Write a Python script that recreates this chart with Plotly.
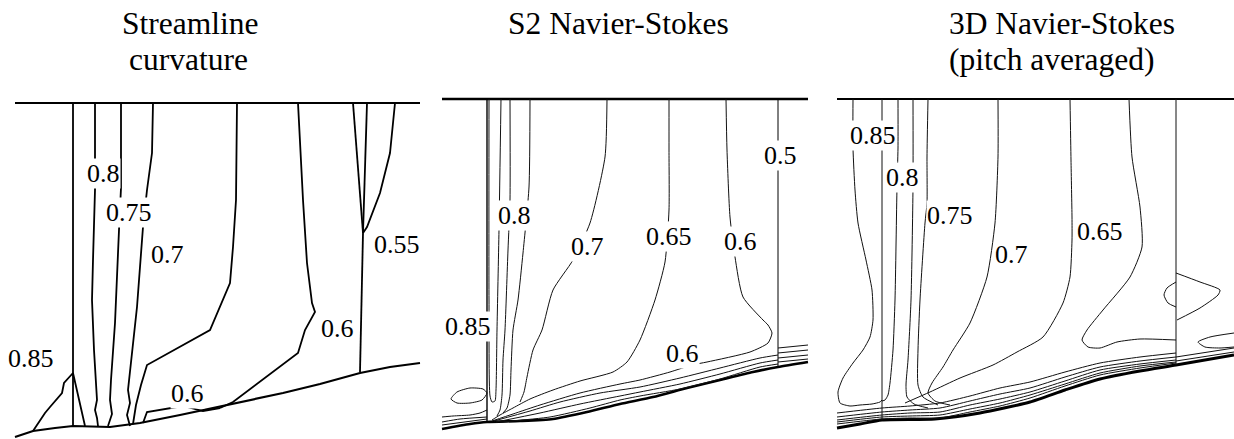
import plotly.graph_objects as go

FONT = "Liberation Serif"

# ---------------- Panel 1 : Streamline curvature ----------------
P1_TOP = ([15, 420], [103, 103])
P1_HUB = ([15, 33, 55, 73, 110, 140, 180, 217, 250, 283, 320, 360, 390, 420],
          [437, 431, 428, 426, 427, 423, 415, 407, 400, 393, 384, 373, 367, 363])
P1_A = ([73, 73], [103, 426])
P1_085 = ([33, 45, 50, 62, 64, 73, 85], [431, 413, 407, 393, 383, 373, 426])
P1_B = ([95, 95, 93, 92, 94, 97, 95, 97, 98], [103, 190, 260, 300, 350, 400, 410, 418, 426])
P1_C = ([121, 121, 119, 115, 111, 110, 112, 108], [103, 188, 230, 323, 380, 400, 414, 426])
P1_D = ([153, 152, 147, 143, 137, 131, 128, 130, 127, 130], [103, 153, 190, 227, 307, 360, 390, 403, 415, 426])
P1_070 = ([237, 236, 233, 230, 210, 147, 141, 136, 133], [103, 200, 247, 283, 330, 365, 385, 405, 424])
P1_060_LOW = ([143, 147, 183, 203, 220], [423, 412, 406, 411, 408])
P1_060 = ([298, 303, 307, 312, 315, 305, 298, 233, 220], [103, 200, 263, 303, 312, 330, 353, 402, 408])
P1_H1 = ([353, 363], [103, 233])
P1_H2 = ([367, 363], [103, 233])
P1_H3 = ([395, 390, 380, 367, 363], [103, 153, 193, 227, 233])
P1_H4 = ([363, 360], [233, 372])
P1_LABELS = [("0.85", 31, 358), ("0.8", 103, 173), ("0.75", 129, 212), ("0.7", 167, 254),
             ("0.6", 187, 393), ("0.6", 337, 328), ("0.55", 397, 244)]

# ---------------- Panel 2 : S2 Navier-Stokes ----------------
P2_TOP = ([442, 808], [99, 99])
P2_HUB = ([442, 470, 487, 520, 553, 587, 620, 653, 687, 720, 753, 778, 808],
          [429, 424, 422, 421, 419, 412, 404, 397, 388, 380, 372, 367, 362])
P2_LE = ([487, 487], [99, 422])
P2_050 = ([778, 778], [99, 367])
P2_085 = ([489, 489, 490, 492, 495, 496, 497, 499, 501], [99, 300, 396, 402, 401, 390, 330, 230, 99])
P2_080 = ([510, 510, 508, 505, 503, 502, 500, 497], [99, 200, 250, 330, 360, 395, 410, 416])
P2_075 = ([530, 529, 523, 518, 513, 511, 510, 507, 503], [99, 187, 253, 300, 330, 370, 395, 408, 413])
P2_070 = ([607, 605, 590, 573, 553, 542, 533, 527, 524, 520], [99, 157, 223, 260, 290, 330, 350, 377, 392, 402])
P2_065 = ([492, 500, 513, 530, 553, 580, 613, 627, 640, 655, 665, 669, 669, 669],
          [420, 415, 408, 399, 390, 381, 372, 362, 340, 300, 262, 210, 150, 99])
P2_060 = ([492, 513, 540, 580, 620, 640, 670, 692, 707, 750, 768, 772, 768, 763, 743, 735, 730, 727, 726],
          [421, 414, 405, 393, 384, 380, 372, 365, 362, 352, 343, 333, 325, 320, 297, 257, 217, 150, 99])
P2_BL_A = ([494, 530, 560, 600, 640, 680, 720, 760, 778], [421, 411, 402, 393, 387, 378, 368, 358, 355])
P2_BL_B = ([496, 540, 580, 620, 640, 680, 720, 760, 778], [422, 413, 404, 396, 392, 384, 374, 363, 360])
P2_BL_C = ([500, 550, 590, 620, 640, 680, 720, 760, 778], [422, 417, 408, 400, 396, 389, 379, 367, 364])
P2_R1 = ([778, 808], [348, 345])
P2_R2 = ([778, 808], [353, 350])
P2_R3 = ([778, 808], [358, 355])
P2_R4 = ([778, 808], [362, 359])
P2_L1 = ([442, 453, 470, 480, 487], [417, 416, 415, 413, 410])
P2_L2 = ([442, 460, 487], [422, 419, 417])
P2_L3 = ([442, 487], [425, 419])
P2_LOOP = ([451, 457, 470, 483, 487, 482, 470, 457, 451], [399, 392, 388, 389, 393, 400, 403, 403, 399])
P2_LABELS = [("0.85", 468, 326), ("0.8", 514, 215), ("0.7", 587, 246), ("0.65", 669, 236),
             ("0.6", 740, 241), ("0.5", 780, 155), ("0.6", 682, 353)]

# ---------------- Panel 3 : 3D Navier-Stokes (pitch averaged) ----------------
P3_TOP = ([837, 1234], [99, 99])
P3_HUB = ([837, 860, 882, 935, 980, 1030, 1065, 1100, 1140, 1176, 1234],
          [428, 424, 420, 419, 413, 402, 390, 379, 371, 365, 355])
P3_LE = ([882, 882], [99, 420])
P3_TE = ([1176, 1176], [99, 365])
P3_085 = ([853, 853, 855, 858, 866, 872, 873, 870, 863, 853, 843, 838, 840, 850, 860, 872, 880, 882],
          [99, 148, 190, 223, 260, 290, 320, 337, 350, 363, 378, 392, 403, 406, 405, 404, 402, 400])
P3_080 = ([898, 898, 897, 895, 893, 890, 888, 885, 882], [99, 148, 187, 300, 350, 383, 395, 400, 401])
P3_L2 = ([913, 913, 911, 908, 906, 907, 914, 928], [99, 187, 300, 360, 385, 397, 404, 408])
P3_075 = ([928, 927, 927, 925, 920, 918, 918, 923, 938], [99, 157, 203, 223, 300, 350, 385, 397, 405])
P3_070 = ([998, 998, 995, 987, 970, 953, 943, 932, 928, 935, 950], [99, 157, 223, 277, 323, 350, 367, 383, 393, 401, 405])
P3_065 = ([1070, 1071, 1072, 1072, 1070, 1063, 1043, 1017, 993, 960, 930, 905],
          [99, 160, 217, 240, 277, 303, 337, 352, 365, 378, 392, 403])
P3_060 = ([1129, 1132, 1140, 1142, 1130, 1103, 1087, 1082, 1088, 1100, 1117, 1140, 1176],
          [99, 157, 207, 247, 277, 310, 330, 340, 347, 348, 342, 339, 340])
P3_BL_X = [837, 882, 910, 940, 970, 1000, 1030, 1065, 1100, 1140, 1176]
P3_BL_1 = [413, 408, 406, 403, 396, 388, 382, 372, 363, 357, 353]
P3_BL_2 = [417, 412, 410, 408, 401, 394, 388, 377, 367, 361, 357]
P3_BL_3 = [420, 415, 413, 412, 405, 399, 392, 381, 370, 364, 360]
P3_BL_4 = [422, 417, 416, 415, 409, 403, 395, 384, 373, 366, 362]
P3_BL_5 = [424, 419, 418, 418, 412, 406, 398, 386, 375, 368, 363]
P3_R1 = ([1176, 1234], [357, 348])
P3_R2 = ([1176, 1234], [361, 352])
P3_LOOP_R = ([1176, 1200, 1220, 1218, 1200, 1177], [273, 282, 290, 295, 308, 320])
P3_LOOP_L = ([1176, 1167, 1164, 1168, 1176], [282, 288, 295, 303, 307])
P3_OVAL = ([1234, 1210, 1198, 1205, 1220, 1234], [333, 337, 342, 347, 348, 347])
P3_LABELS = [("0.85", 873, 135), ("0.8", 902, 177), ("0.75", 950, 215), ("0.7", 1011, 254), ("0.65", 1100, 231)]

TITLES = [("Streamline", 190, 23, "center"), ("curvature", 188, 59, "center"),
          ("S2 Navier-Stokes", 618, 23, "center"),
          ("3D Navier-Stokes", 947, 23, "left"), ("(pitch averaged)", 947, 59, "left")]

fig = go.Figure()


def add(xy, width, color="#000", smooth=False):
    xs, ys = xy
    line = dict(color=color, width=width)
    if smooth:
        line.update(shape="spline", smoothing=0.6)
    fig.add_trace(go.Scatter(x=xs, y=ys, mode="lines", line=line, hoverinfo="skip", showlegend=False))


# panel 1 (polygonal, heavier strokes)
add(P1_TOP, 2.2)
add(P1_HUB, 2.2)
for ln in [P1_A, P1_085, P1_B, P1_C, P1_D, P1_070, P1_060_LOW, P1_060, P1_H1, P1_H2, P1_H3, P1_H4]:
    add(ln, 1.8)

# panel 2 (smooth thin contours)
add(P2_TOP, 2.4)
add(P2_HUB, 2.6, smooth=True)
add(P2_LE, 1.4)
add(P2_050, 1.0)
for ln in [P2_085, P2_080, P2_075, P2_070, P2_065, P2_060, P2_BL_A, P2_BL_B, P2_BL_C,
           P2_R1, P2_R2, P2_R3, P2_R4, P2_L1, P2_L2, P2_L3, P2_LOOP]:
    add(ln, 1.0, "#111", smooth=True)

# panel 3
add(P3_TOP, 2.0)
add(P3_HUB, 3.0, smooth=True)
add(P3_LE, 1.0, "#111")
add(P3_TE, 1.0, "#111")
for ln in [P3_085, P3_080, P3_L2, P3_075, P3_070, P3_065, P3_060, P3_R1, P3_R2,
           P3_LOOP_R, P3_LOOP_L, P3_OVAL]:
    add(ln, 1.0, "#111", smooth=True)
for ys in [P3_BL_1, P3_BL_2, P3_BL_3, P3_BL_4, P3_BL_5]:
    add((P3_BL_X, ys), 1.0, "#111", smooth=True)

annotations = []
for txt, x, y in P1_LABELS + P2_LABELS + P3_LABELS:
    annotations.append(dict(text=txt, x=x, y=y, xref="x", yref="y", showarrow=False,
                            xanchor="center", yanchor="middle", bgcolor="white", borderpad=0,
                            font=dict(family=FONT, size=26, color="#000")))
for txt, x, y, al in TITLES:
    annotations.append(dict(text=txt, x=x, y=y, xref="x", yref="y", showarrow=False,
                            xanchor=al, yanchor="middle",
                            font=dict(family=FONT, size=31.5, color="#000")))

fig.update_layout(
    width=1234, height=439, margin=dict(l=0, r=0, t=0, b=0),
    paper_bgcolor="white", plot_bgcolor="white",
    font=dict(family=FONT),
    xaxis=dict(range=[0, 1234], visible=False, fixedrange=True),
    yaxis=dict(range=[439, 0], visible=False, fixedrange=True),
    annotations=annotations,
)
fig.write_html("out.html")
